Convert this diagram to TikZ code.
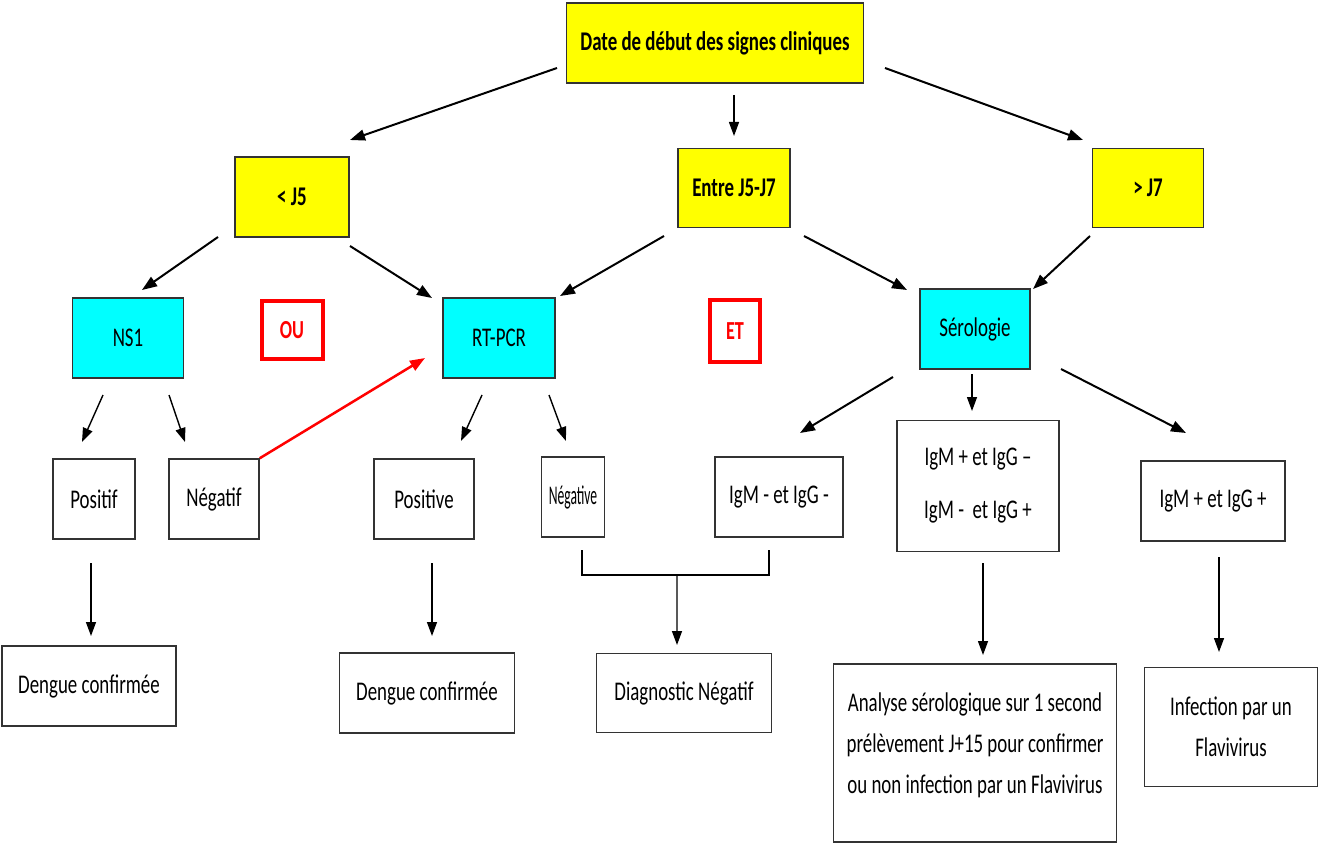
\documentclass[tikz,border=0pt]{standalone}
\usepackage{fontspec}
\setmainfont{Carlito}[FakeStretch=0.7]
\usetikzlibrary{arrows.meta}
\definecolor{dateyellow}{RGB}{255,255,0}
\definecolor{testcyan}{RGB}{0,255,255}

\begin{document}
\begin{tikzpicture}[x=1pt,y=-1pt,
  box/.style={draw=black!80,line width=1.5,inner sep=0,align=center,font=\fontsize{27}{41}\selectfont},
  datebox/.style={box,fill=dateyellow,font=\fontsize{27}{32}\selectfont\bfseries},
  testbox/.style={box,fill=testcyan},
  logic/.style={draw=red,line width=4,text=red,inner sep=0,font=\fontsize{26}{30}\selectfont\bfseries},
  arr/.style={-{Triangle[length=15,width=11]},line width=2},
  thinarr/.style={-{Triangle[length=14,width=10]},line width=1.4}]
  \useasboundingbox (0,0) rectangle (1319,845);

  % dates
  \node[datebox,minimum width=297,minimum height=80] (top) at (715,43) {Date de début des signes cliniques};
  \node[datebox,minimum width=114,minimum height=80] (lt5) at (292,197) {< J5};
  \node[datebox,minimum width=112,minimum height=79] (mid5) at (734,188) {Entre J5-J7};
  \node[datebox,minimum width=111,minimum height=79] (gt7) at (1148,188) {> J7};

  % tests
  \node[testbox,minimum width=111,minimum height=80] (ns1) at (128,338) {NS1};
  \node[testbox,minimum width=112,minimum height=80] (rtpcr) at (499,338) {RT-PCR};
  \node[testbox,minimum width=110,minimum height=80] (sero) at (975,329) {Sérologie};
  \node[logic,minimum width=61,minimum height=58] (ou) at (292,330) {OU};
  \node[logic,minimum width=50,minimum height=62] (et) at (735,331) {ET};

  % results
  \node[box,minimum width=82,minimum height=80] (pos) at (94,499) {Positif};
  \node[box,minimum width=90,minimum height=80] (neg) at (214,499) {Négatif};
  \node[box,minimum width=100,minimum height=80] (posv) at (424,499) {Positive};
  \node[box,minimum width=63,minimum height=80] (negv) at (573,497) {\scalebox{0.72}[1]{Négative}};
  \node[box,minimum width=128,minimum height=80] (igmm) at (779,497) {IgM - et IgG -};
  \node[box,minimum width=162,minimum height=131] (igmx) at (978,486) {IgM + et IgG –\\[12pt]IgM -~ et IgG +};
  \node[box,minimum width=144,minimum height=80] (igmp) at (1213,501) {IgM + et IgG +};

  % conclusions
  \node[box,minimum width=174,minimum height=80] (dengA) at (89,686) {Dengue confirmée};
  \node[box,minimum width=175,minimum height=80] (dengB) at (427,693) {Dengue confirmée};
  \node[box,minimum width=175,minimum height=79] (diag) at (684,693) {Diagnostic Négatif};
  \node[box,minimum width=283,minimum height=178] (ana) at (975,753) {Analyse sérologique sur 1 second\\prélèvement J+15 pour confirmer\\ou non infection par un Flavivirus\\[-21pt]\mbox{}};
  \node[box,minimum width=173,minimum height=119] (inf) at (1231,727) {Infection par un\\Flavivirus};

  % arrows
  \draw[arr] ([shift={(-158,25)}]top.center) -- ([shift={(58,-57)}]lt5.center);
  \draw[thinarr] ([shift={(19,52)}]top.center) -- ([shift={(0,-52)}]mid5.center);
  \draw[arr] ([shift={(170,25)}]top.center) -- ([shift={(-65,-48)}]gt7.center);
  \draw[arr] ([shift={(-74,40)}]lt5.center) -- ([shift={(14,-48)}]ns1.center);
  \draw[arr] ([shift={(58,49)}]lt5.center) -- ([shift={(-67,-40)}]rtpcr.center);
  \draw[arr] ([shift={(-70,48)}]mid5.center) -- ([shift={(61,-42)}]rtpcr.center);
  \draw[arr] ([shift={(70,48)}]mid5.center) -- ([shift={(-68,-39)}]sero.center);
  \draw[arr] ([shift={(-58,48)}]gt7.center) -- ([shift={(58,-40)}]sero.center);
  \draw[thinarr] ([shift={(-25,57)}]ns1.center) -- ([shift={(-12,-57)}]pos.center);
  \draw[thinarr] ([shift={(41,57)}]ns1.center) -- ([shift={(-29,-57)}]neg.center);
  \draw[arr,red,line width=2.5] (neg.north east) -- ([shift={(-74,20)}]rtpcr.center);
  \draw[thinarr] ([shift={(-17,57)}]rtpcr.center) -- ([shift={(37,-58)}]posv.center);
  \draw[thinarr] ([shift={(50,57)}]rtpcr.center) -- ([shift={(-7,-56)}]negv.center);
  \draw[arr] ([shift={(-82,48)}]sero.center) -- ([shift={(21,-64)}]igmm.center);
  \draw[thinarr] ([shift={(-3,45)}]sero.center) -- ([shift={(-6,-75)}]igmx.center);
  \draw[arr] ([shift={(86,40)}]sero.center) -- ([shift={(-27,-68)}]igmp.center);
  \draw[thinarr] ([shift={(-3,64)}]pos.center) -- ([shift={(2,-50)}]dengA.center);
  \draw[thinarr] ([shift={(8,64)}]posv.center) -- ([shift={(5,-57)}]dengB.center);
  \draw[line width=1.4] ([shift={(9,53)}]negv.center) -- ++(0,25)
    -- coordinate[pos=0.508] (brk) ++(187,0) -- ++(0,-25);
  \draw[thinarr] (brk) -- ([shift={(-7,-48)}]diag.center);
  \draw[thinarr] ([shift={(5,77)}]igmx.center) -- ([shift={(8,-98)}]ana.center);
  \draw[thinarr] ([shift={(6,56)}]igmp.center) -- ([shift={(-12,-75)}]inf.center);
\end{tikzpicture}
\end{document}
